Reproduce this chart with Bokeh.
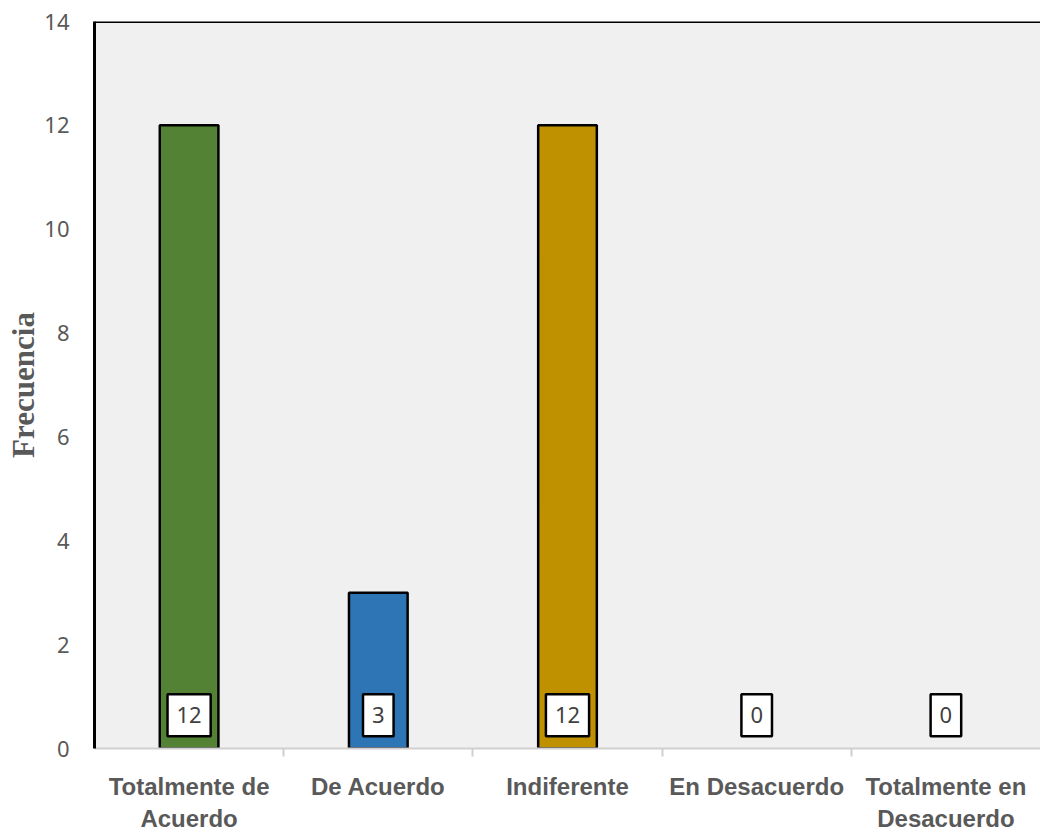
from bokeh.plotting import figure
from bokeh.models import ColumnDataSource, Range1d, FixedTicker, Label, Span
from bokeh.embed import file_html
from bokeh.resources import INLINE

categories = ["Totalmente de\nAcuerdo", "De Acuerdo", "Indiferente", "En Desacuerdo", "Totalmente en\nDesacuerdo"]
values = [12, 3, 12, 0, 0]
colors = ["#548235", "#2E75B6", "#BF9000", "#A5A5A5", "#7F7F7F"]
y_ticks = [0, 2, 4, 6, 8, 10, 12, 14]

xs = [i + 0.5 for i in range(len(categories))]

p = figure(frame_width=946, frame_height=727, output_backend="svg", toolbar_location=None,
           x_range=Range1d(0, len(categories)), y_range=Range1d(0, 14),
           min_border_left=94, min_border_top=21, min_border_right=0, min_border_bottom=80)
p.background_fill_color = "#F0F0F0"
p.border_fill_color = "white"
p.outline_line_color = None
p.grid.visible = False

bar_x = [x for x, v in zip(xs, values) if v > 0]
bar_v = [v for v in values if v > 0]
bar_c = [c for c, v in zip(colors, values) if v > 0]
src = ColumnDataSource(dict(x=bar_x, top=bar_v, color=bar_c))
p.vbar(x="x", top="top", bottom=0, width=0.31, fill_color="color", line_color="black", line_width=2.5, source=src)

for x, v in zip(xs, values):
    p.add_layout(Label(x=x, y=0.64, text=str(v), text_align="center", text_baseline="middle",
                       text_font="Noto Sans", text_font_size="22px", text_color="#404040",
                       background_fill_color="white", border_line_color="black", border_line_width=2.5,
                       padding=dict(left=9, right=9, top=13, bottom=13)))

p.add_layout(Span(location=14, dimension="width", line_color="black", line_width=3))

# y axis
p.yaxis.ticker = FixedTicker(ticks=y_ticks)
p.yaxis.axis_line_color = "black"
p.yaxis.axis_line_width = 3
p.yaxis.major_tick_line_color = None
p.yaxis.minor_tick_line_color = None
p.yaxis.major_label_text_font = "Noto Sans"
p.yaxis.major_label_text_font_size = "22px"
p.yaxis.major_label_text_color = "#595959"
p.yaxis.major_label_standoff = 19
p.yaxis.axis_label = "Frecuencia"
p.yaxis.axis_label_text_font = "Liberation Serif"
p.yaxis.axis_label_text_font_style = "bold"
p.yaxis.axis_label_text_font_size = "31px"
p.yaxis.axis_label_text_color = "#595959"
p.yaxis.axis_label_standoff = 0

# x axis
p.xaxis.ticker = FixedTicker(ticks=xs, minor_ticks=[1, 2, 3, 4])
p.xaxis.major_label_overrides = {x: c for x, c in zip(xs, categories)}
p.xaxis.axis_line_color = "#D0D0D0"
p.xaxis.axis_line_width = 2
p.xaxis.major_tick_line_color = None
p.xaxis.minor_tick_line_color = "#D0D0D0"
p.xaxis.minor_tick_line_width = 2
p.xaxis.minor_tick_out = 8
p.xaxis.minor_tick_in = 0
p.xaxis.major_label_text_font = "Liberation Sans"
p.xaxis.major_label_text_font_style = "bold"
p.xaxis.major_label_text_font_size = "24px"
p.xaxis.major_label_text_color = "#595959"
p.xaxis.major_label_standoff = 16

open("out.html", "w").write(file_html(p, INLINE))
